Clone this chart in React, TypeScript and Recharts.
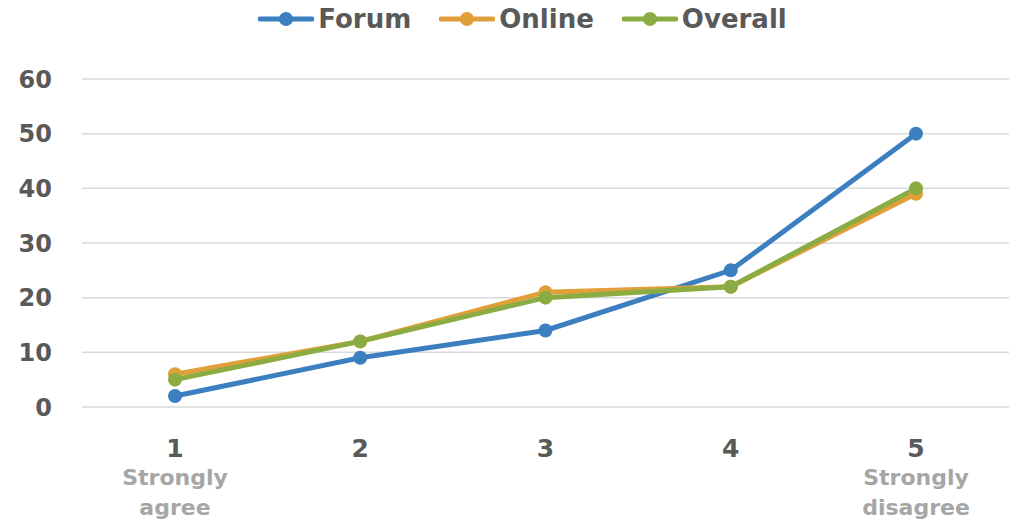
import React from 'react';
import { LineChart, Line, XAxis, YAxis, CartesianGrid, Legend } from 'recharts';

const categories = ['1', '2', '3', '4', '5'];
const subLabels = ['Strongly agree', '', '', '', 'Strongly disagree'];
const forum = [2, 9, 14, 25, 50];
const online = [6, 12, 21, 22, 39];
const overall = [5, 12, 20, 22, 40];
const yTicks = [0, 10, 20, 30, 40, 50, 60];

const series = [
  { key: 'Forum', color: '#3b7fc0' },
  { key: 'Online', color: '#e09f38' },
  { key: 'Overall', color: '#8aac42' },
];

const data = categories.map((c, i) => ({
  name: c,
  Forum: forum[i],
  Online: online[i],
  Overall: overall[i],
}));

const FONT = '"DejaVu Sans", sans-serif';

const XTick = (props: any) => {
  const { x, y, payload, index } = props;
  const words = subLabels[index] ? subLabels[index].split(' ') : [];
  return (
    <g>
      <text x={x} y={y + 42} textAnchor="middle" fill="#595959" fontSize={25} fontWeight="bold" fontFamily={FONT}>
        {payload.value}
      </text>
      {words.map((w: string, i: number) => (
        <text key={i} x={x} y={y + 70 + i * 30} textAnchor="middle" fill="#a6a6a6" fontSize={22} fontWeight="bold" fontFamily={FONT}>
          {w}
        </text>
      ))}
    </g>
  );
};

const LegendContent = () => (
  <div style={{ display: 'flex', justifyContent: 'center', gap: 28, fontFamily: FONT, paddingLeft: 36 }}>
    {series.map((s) => (
      <div key={s.key} style={{ display: 'flex', alignItems: 'center' }}>
        <svg width={56} height={20}>
          <line x1={2} y1={10} x2={54} y2={10} stroke={s.color} strokeWidth={5} strokeLinecap="round" />
          <circle cx={28} cy={10} r={7} fill={s.color} />
        </svg>
        <span style={{ color: '#595959', fontSize: 26, fontWeight: 'bold', marginLeft: 4 }}>{s.key}</span>
      </div>
    ))}
  </div>
);

export default function App() {
  return (
    <div style={{ position: 'absolute', left: 0, top: 0, background: '#fff' }}>
      <LineChart width={1009} height={522} data={data} margin={{ top: 47, right: 0, bottom: 85, left: 0 }}>
        <Legend verticalAlign="top" height={32} content={<LegendContent />} wrapperStyle={{ top: 4 }} />
        <CartesianGrid vertical={false} stroke="#d9d9d9" strokeWidth={1.5} />
        <XAxis
          dataKey="name"
          axisLine={false}
          tickLine={false}
          tick={<XTick />}
          interval={0}
          padding={{ left: 93, right: 93 }}
        />
        <YAxis
          domain={[0, 60]}
          ticks={yTicks}
          width={82}
          axisLine={false}
          tickLine={false}
          tickMargin={24}
          tick={{ fill: '#595959', fontSize: 24, fontWeight: 'bold', fontFamily: FONT }}
        />
        {series.map((s) => (
          <Line
            key={s.key}
            dataKey={s.key}
            stroke={s.color}
            strokeWidth={5}
            dot={{ r: 7, fill: s.color, stroke: s.color, strokeWidth: 0 }}
            isAnimationActive={false}
          />
        ))}
      </LineChart>
    </div>
  );
}
